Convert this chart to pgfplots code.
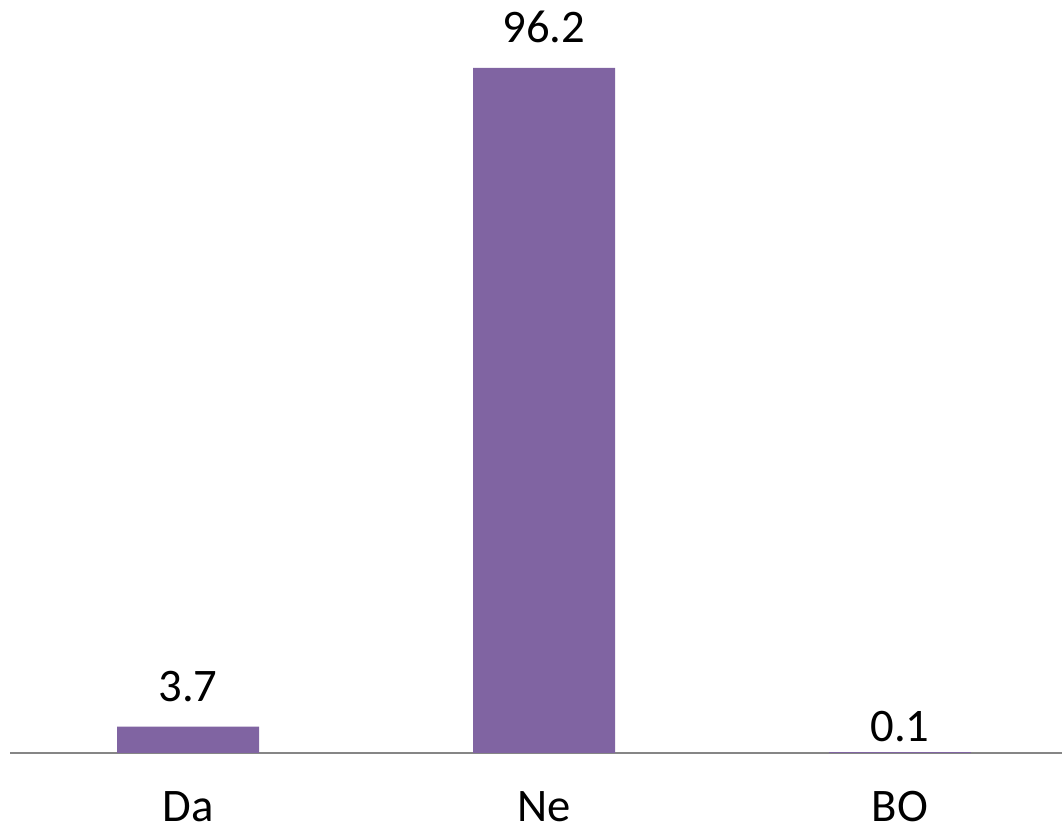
\documentclass[border=0pt]{standalone}
\usepackage{pgfplots}
\pgfplotsset{compat=1.18}
\usepackage{fontspec}
\setmainfont{Carlito}
\definecolor{barpurple}{HTML}{8064A2}
\definecolor{axisgray}{HTML}{868686}

\begin{document}
\begin{tikzpicture}[x=1pt,y=1pt]
  % page = 1062x834 px at 0.75pt per px; axis origin at px (10,753)
  \useasboundingbox (-7.5,-60.75) rectangle (789,564.75);
  \begin{axis}[
    scale only axis,
    width=789pt, height=564.75pt,
    xmin=-0.5, xmax=2.455,
    ymin=0, ymax=105.75,
    axis y line=none,
    axis x line*=bottom,
    x axis line style={axisgray, line width=1.5pt, -},
    xtick={0,1,2},
    xticklabels={Da,Ne,BO},
    major tick length=0pt,
    xticklabel style={font=\fontsize{35}{42}\selectfont, anchor=base, inner sep=0pt, yshift=-51pt},
    ybar, bar width=106.5pt, bar shift=0pt,
    nodes near coords,
    /pgf/number format/assume math mode=true,
    /pgf/number format/.cd, fixed, precision=1, fixed zerofill,
    /pgfplots/.cd,
    every node near coord/.append style={font=\fontsize{35}{42}\selectfont, black, anchor=base, inner sep=0pt, yshift=18.75pt},
    clip=false,
  ]
    \addplot[fill=barpurple, draw=none] coordinates {(0,3.7) (1,96.2)};
    \addplot[fill=barpurple, draw=none,
      every node near coord/.append style={yshift=-10.5pt}] coordinates {(2,0.1)};
  \end{axis}
\end{tikzpicture}
\end{document}
